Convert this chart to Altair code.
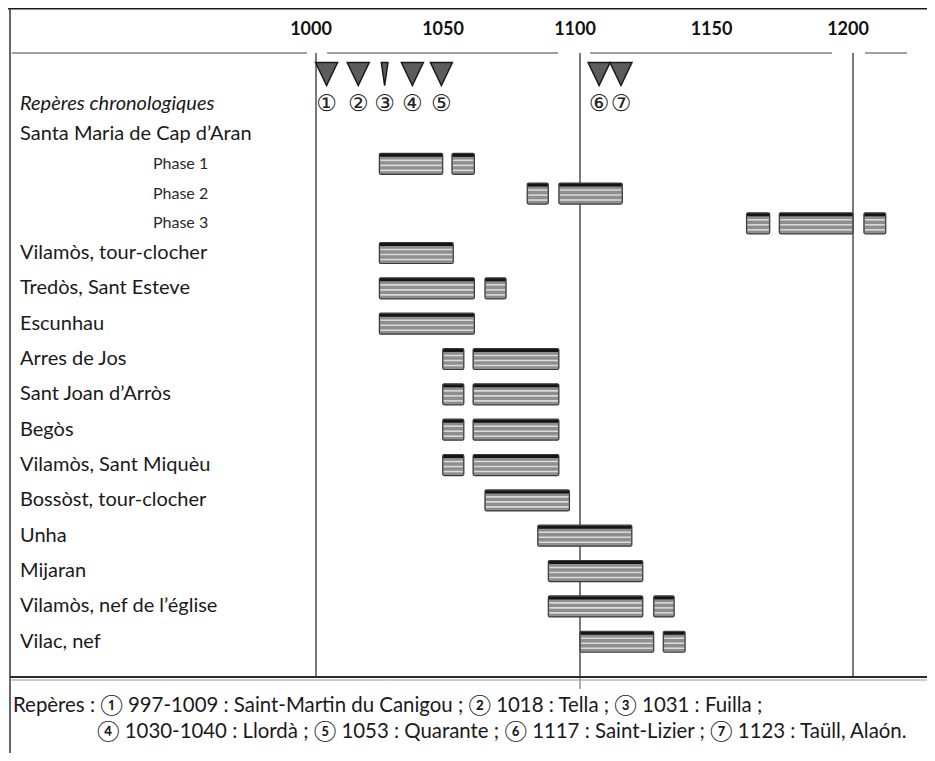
import altair as alt
import pandas as pd

# ---------------- data ----------------
row_labels = [
    "Repères chronologiques",
    "Santa Maria de Cap d’Aran",
    "Phase 1",
    "Phase 2",
    "Phase 3",
    "Vilamòs, tour-clocher",
    "Tredòs, Sant Esteve",
    "Escunhau",
    "Arres de Jos",
    "Sant Joan d’Arròs",
    "Begòs",
    "Vilamòs, Sant Miquèu",
    "Bossòst, tour-clocher",
    "Unha",
    "Mijaran",
    "Vilamòs, nef de l’église",
    "Vilac, nef",
]
row_kinds = ["italic", "main", "phase", "phase", "phase"] + ["main"] * 12

bar_rows = [
    "Phase 1", "Phase 1",
    "Phase 2", "Phase 2",
    "Phase 3", "Phase 3", "Phase 3",
    "Vilamòs, tour-clocher",
    "Tredòs, Sant Esteve", "Tredòs, Sant Esteve",
    "Escunhau",
    "Arres de Jos", "Arres de Jos",
    "Sant Joan d’Arròs", "Sant Joan d’Arròs",
    "Begòs", "Begòs",
    "Vilamòs, Sant Miquèu", "Vilamòs, Sant Miquèu",
    "Bossòst, tour-clocher",
    "Unha",
    "Mijaran",
    "Vilamòs, nef de l’église", "Vilamòs, nef de l’église",
    "Vilac, nef", "Vilac, nef",
]
bar_starts = [1024, 1051.5, 1080, 1092, 1161, 1173, 1204, 1024, 1024, 1064,
              1024, 1048, 1059.5, 1048, 1059.5, 1048, 1059.5, 1048, 1059.5,
              1064, 1084, 1088, 1088, 1127, 1100, 1130.5]
bar_ends = [1048, 1060, 1088, 1115.5, 1169.5, 1200, 1212, 1052, 1060, 1072,
            1060, 1056, 1092, 1056, 1092, 1056, 1092, 1056, 1092,
            1096, 1119, 1123, 1123, 1134.5, 1127, 1138.5]

marker_years = [1004, 1016, 1026, 1036.5, 1047.5, 1107, 1115]
marker_labels = ["①", "②", "③", "④", "⑤", "⑥", "⑦"]
marker_kinds = ["wide", "wide", "narrow", "wide", "wide", "wide", "wide"]

tick_years = [1000, 1050, 1100, 1150, 1200]
grid_years = [1000, 1100, 1200]
# header rule pieces (in years), interrupted around the grid lines
header_seg_starts = [884.8, 1004.2, 1103.7, 1204.4]
header_seg_ends = [996.6, 1091.7, 1192.3, 1219.8]

footer_lines = [
    "Repères : ① 997-1009 : Saint-Martin du Canigou ; ② 1018 : Tella ; ③  1031 : Fuilla ;",
    "④ 1030-1040 : Llordà ; ⑤ 1053 : Quarante ; ⑥ 1117 : Saint-Lizier ; ⑦ 1123 : Taüll, Alaón.",
]

# ---------------- tables ----------------
row_index = {r: i for i, r in enumerate(row_labels)}
rows_df = pd.DataFrame({"label": row_labels, "kind": row_kinds,
                        "idx": list(range(len(row_labels)))})
bars_df = pd.DataFrame({"row": [row_index[r] for r in bar_rows],
                        "start": bar_starts, "end": bar_ends})
markers_df = pd.DataFrame({"year": marker_years, "num": marker_labels,
                           "kind": marker_kinds})
ticks_df = pd.DataFrame({"year": tick_years, "lab": [str(t) for t in tick_years]})
grid_df = pd.DataFrame({"year": grid_years})
seg_df = pd.DataFrame({"s": header_seg_starts, "e": header_seg_ends})
one = pd.DataFrame({"a": [0]})

W, H = 919, 745
FONT = "Lato"

xs = alt.Scale(domain=[1000, 1100, 1200], range=[308, 572, 845], zero=False, nice=False)
ys = alt.Scale(domain=[0, 5, 16], range=[92, 245, 639], zero=False, nice=False)

# ---------------- frame ----------------
top_border = alt.Chart(one).mark_rule(color="#1a1a1a", strokeWidth=2).encode(
    x=alt.value(0), x2=alt.value(W), y=alt.value(0.5))
left_border = alt.Chart(one).mark_rule(color="#333333", strokeWidth=1.5).encode(
    x=alt.value(2), y=alt.value(0), y2=alt.value(H))
bottom1 = alt.Chart(one).mark_rule(color="#2a2a2a", strokeWidth=2).encode(
    x=alt.value(2), x2=alt.value(W), y=alt.value(669))
bottom2 = alt.Chart(one).mark_rule(color="#9a9a9a", strokeWidth=1.2).encode(
    x=alt.value(2), x2=alt.value(W), y=alt.value(672))

header_rule = alt.Chart(seg_df).mark_rule(color="#a0a0a0", strokeWidth=2).encode(
    x=alt.X("s:Q", scale=xs, axis=None), x2="e:Q", y=alt.value(45))

grid = alt.Chart(grid_df).mark_rule(color="#7a7a7a", strokeWidth=2).encode(
    x=alt.X("year:Q", scale=xs, axis=None), y=alt.value(45), y2=alt.value(669))
mid_tick = alt.Chart(grid_df).transform_filter(alt.datum.year == 1100).mark_rule(
    color="#7a7a7a", strokeWidth=1.2).encode(
    x=alt.X("year:Q", scale=xs, axis=None), y=alt.value(669), y2=alt.value(681))

ticks = alt.Chart(ticks_df).mark_text(font=FONT, fontSize=18, fontWeight="bold",
                                      color="#111111", dx=-5, baseline="middle").encode(
    x=alt.X("year:Q", scale=xs, axis=None), y=alt.value(21.5), text="lab:N")

# ---------------- markers ----------------
wide = "M-1,-1.05L1,-1.05L0,1.05Z"
narrow = "M-0.3,-1.05L0.3,-1.05L0,1.05Z"
tri = alt.Chart(markers_df).mark_point(filled=True, size=484, fill="#5c5c5c",
                                       stroke="#1a1a1a", strokeWidth=1.5, opacity=1).encode(
    x=alt.X("year:Q", scale=xs, axis=None), y=alt.value(66),
    shape=alt.Shape("kind:N", scale=alt.Scale(domain=["wide", "narrow"], range=[wide, narrow]),
                    legend=None))
nums = alt.Chart(markers_df).mark_text(font="DejaVu Sans", fontSize=23, color="#222222",
                                       baseline="middle").encode(
    x=alt.X("year:Q", scale=xs, axis=None), y=alt.value(96), text="num:N")

# ---------------- row labels ----------------
lab_it = alt.Chart(rows_df).transform_filter(alt.datum.kind == "italic").mark_text(
    font=FONT, fontSize=20, fontStyle="italic", align="left", baseline="middle",
    color="#1a1a1a").encode(x=alt.value(12), y=alt.Y("idx:Q", scale=ys, axis=None), text="label:N")
lab_main = alt.Chart(rows_df).transform_filter(alt.datum.kind == "main").mark_text(
    font=FONT, fontSize=20, align="left", baseline="middle",
    color="#1a1a1a").encode(x=alt.value(12), y=alt.Y("idx:Q", scale=ys, axis=None), text="label:N")
lab_phase = alt.Chart(rows_df).transform_filter(alt.datum.kind == "phase").mark_text(
    font=FONT, fontSize=16, align="left", baseline="middle",
    color="#2a2a2a").encode(x=alt.value(145), y=alt.Y("idx:Q", scale=ys, axis=None), text="label:N")

# ---------------- bars ----------------
benc = dict(x=alt.X("start:Q", scale=xs, axis=None), x2="end:Q",
            y=alt.Y("row:Q", scale=ys, axis=None))
bar_base = alt.Chart(bars_df).mark_bar(orient="horizontal", size=21, fill="#8e8e8e",
                                       stroke="#3a3a3a", strokeWidth=1.2,
                                       cornerRadius=1.5).encode(**benc)
bar_top = alt.Chart(bars_df).mark_rule(color="#151515", strokeWidth=3, yOffset=-8.5,
                                       xOffset=0.5, x2Offset=-0.5).encode(**benc)
stripes = [
    alt.Chart(bars_df).mark_rule(color="#dadada", strokeWidth=1.6, yOffset=o,
                                 xOffset=1, x2Offset=-1).encode(**benc)
    for o in (-3.5, 1.5, 6.5)
]

# ---------------- footer ----------------
foot1 = alt.Chart(one).mark_text(font=FONT, fontSize=20.4, align="left", baseline="middle",
                                 color="#1a1a1a", text=footer_lines[0]).encode(
    x=alt.value(5), y=alt.value(698))
foot2 = alt.Chart(one).mark_text(font=FONT, fontSize=20.4, align="left", baseline="middle",
                                 color="#1a1a1a", text=footer_lines[1]).encode(
    x=alt.value(89), y=alt.value(724))

chart = alt.layer(
    header_rule, grid, mid_tick, top_border, left_border, bottom1, bottom2, ticks,
    tri, nums, lab_it, lab_main, lab_phase,
    bar_base, bar_top, *stripes, foot1, foot2,
).properties(width=W, height=H, autosize="none", padding=0, background="white"
).configure_view(stroke=None)

chart.save("out.html", embed_options={"renderer": "svg", "actions": False})
